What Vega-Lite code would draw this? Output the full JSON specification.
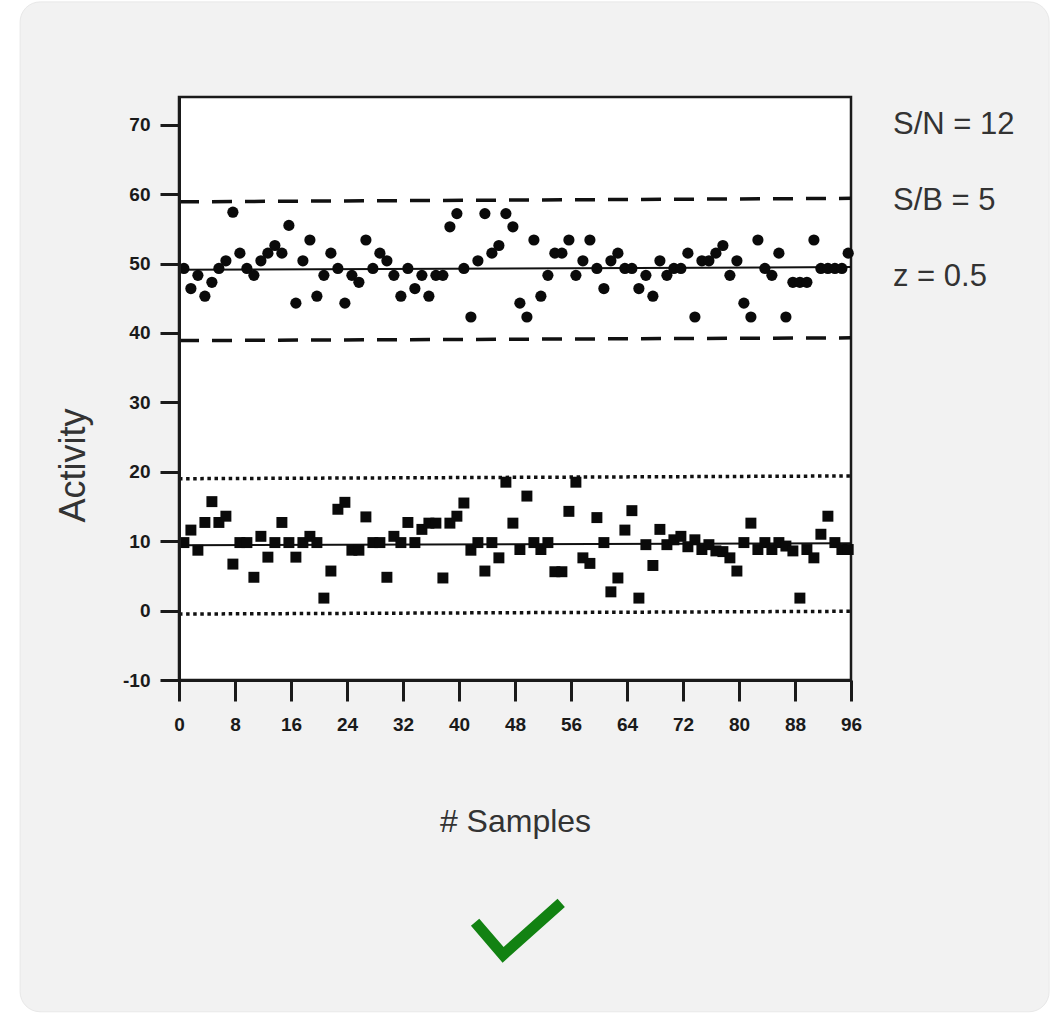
{
  "$schema": "https://vega.github.io/schema/vega-lite/v6.json",
  "width": 672,
  "height": 583,
  "autosize": {"type": "none"},
  "padding": {"left": 179, "top": 97, "right": 208, "bottom": 334},
  "background": "white",
  "config": {"view": {"stroke": null}, "font": "Liberation Sans"},
  "datasets": {
    "points": [
      {"sample": 0.7, "activity": 49.3, "kind": "signal"},
      {"sample": 1.7, "activity": 46.4, "kind": "signal"},
      {"sample": 2.7, "activity": 48.3, "kind": "signal"},
      {"sample": 3.7, "activity": 45.3, "kind": "signal"},
      {"sample": 4.7, "activity": 47.3, "kind": "signal"},
      {"sample": 5.7, "activity": 49.3, "kind": "signal"},
      {"sample": 6.7, "activity": 50.4, "kind": "signal"},
      {"sample": 7.7, "activity": 57.4, "kind": "signal"},
      {"sample": 8.7, "activity": 51.5, "kind": "signal"},
      {"sample": 9.7, "activity": 49.3, "kind": "signal"},
      {"sample": 10.7, "activity": 48.3, "kind": "signal"},
      {"sample": 11.7, "activity": 50.4, "kind": "signal"},
      {"sample": 12.7, "activity": 51.5, "kind": "signal"},
      {"sample": 13.7, "activity": 52.6, "kind": "signal"},
      {"sample": 14.7, "activity": 51.5, "kind": "signal"},
      {"sample": 15.7, "activity": 55.5, "kind": "signal"},
      {"sample": 16.7, "activity": 44.3, "kind": "signal"},
      {"sample": 17.7, "activity": 50.4, "kind": "signal"},
      {"sample": 18.7, "activity": 53.4, "kind": "signal"},
      {"sample": 19.7, "activity": 45.3, "kind": "signal"},
      {"sample": 20.7, "activity": 48.3, "kind": "signal"},
      {"sample": 21.7, "activity": 51.5, "kind": "signal"},
      {"sample": 22.7, "activity": 49.3, "kind": "signal"},
      {"sample": 23.7, "activity": 44.3, "kind": "signal"},
      {"sample": 24.7, "activity": 48.3, "kind": "signal"},
      {"sample": 25.7, "activity": 47.3, "kind": "signal"},
      {"sample": 26.7, "activity": 53.4, "kind": "signal"},
      {"sample": 27.7, "activity": 49.3, "kind": "signal"},
      {"sample": 28.7, "activity": 51.5, "kind": "signal"},
      {"sample": 29.7, "activity": 50.4, "kind": "signal"},
      {"sample": 30.7, "activity": 48.3, "kind": "signal"},
      {"sample": 31.7, "activity": 45.3, "kind": "signal"},
      {"sample": 32.7, "activity": 49.3, "kind": "signal"},
      {"sample": 33.7, "activity": 46.4, "kind": "signal"},
      {"sample": 34.7, "activity": 48.3, "kind": "signal"},
      {"sample": 35.7, "activity": 45.3, "kind": "signal"},
      {"sample": 36.7, "activity": 48.3, "kind": "signal"},
      {"sample": 37.7, "activity": 48.3, "kind": "signal"},
      {"sample": 38.7, "activity": 55.3, "kind": "signal"},
      {"sample": 39.7, "activity": 57.2, "kind": "signal"},
      {"sample": 40.7, "activity": 49.3, "kind": "signal"},
      {"sample": 41.7, "activity": 42.3, "kind": "signal"},
      {"sample": 42.7, "activity": 50.4, "kind": "signal"},
      {"sample": 43.7, "activity": 57.2, "kind": "signal"},
      {"sample": 44.7, "activity": 51.5, "kind": "signal"},
      {"sample": 45.7, "activity": 52.6, "kind": "signal"},
      {"sample": 46.7, "activity": 57.2, "kind": "signal"},
      {"sample": 47.7, "activity": 55.3, "kind": "signal"},
      {"sample": 48.7, "activity": 44.3, "kind": "signal"},
      {"sample": 49.7, "activity": 42.3, "kind": "signal"},
      {"sample": 50.7, "activity": 53.4, "kind": "signal"},
      {"sample": 51.7, "activity": 45.3, "kind": "signal"},
      {"sample": 52.7, "activity": 48.3, "kind": "signal"},
      {"sample": 53.7, "activity": 51.5, "kind": "signal"},
      {"sample": 54.7, "activity": 51.5, "kind": "signal"},
      {"sample": 55.7, "activity": 53.4, "kind": "signal"},
      {"sample": 56.7, "activity": 48.3, "kind": "signal"},
      {"sample": 57.7, "activity": 50.4, "kind": "signal"},
      {"sample": 58.7, "activity": 53.4, "kind": "signal"},
      {"sample": 59.7, "activity": 49.3, "kind": "signal"},
      {"sample": 60.7, "activity": 46.4, "kind": "signal"},
      {"sample": 61.7, "activity": 50.4, "kind": "signal"},
      {"sample": 62.7, "activity": 51.5, "kind": "signal"},
      {"sample": 63.7, "activity": 49.3, "kind": "signal"},
      {"sample": 64.7, "activity": 49.3, "kind": "signal"},
      {"sample": 65.7, "activity": 46.4, "kind": "signal"},
      {"sample": 66.7, "activity": 48.3, "kind": "signal"},
      {"sample": 67.7, "activity": 45.3, "kind": "signal"},
      {"sample": 68.7, "activity": 50.4, "kind": "signal"},
      {"sample": 69.7, "activity": 48.3, "kind": "signal"},
      {"sample": 70.7, "activity": 49.3, "kind": "signal"},
      {"sample": 71.7, "activity": 49.3, "kind": "signal"},
      {"sample": 72.7, "activity": 51.5, "kind": "signal"},
      {"sample": 73.7, "activity": 42.3, "kind": "signal"},
      {"sample": 74.7, "activity": 50.4, "kind": "signal"},
      {"sample": 75.7, "activity": 50.4, "kind": "signal"},
      {"sample": 76.7, "activity": 51.5, "kind": "signal"},
      {"sample": 77.7, "activity": 52.6, "kind": "signal"},
      {"sample": 78.7, "activity": 48.3, "kind": "signal"},
      {"sample": 79.7, "activity": 50.4, "kind": "signal"},
      {"sample": 80.7, "activity": 44.3, "kind": "signal"},
      {"sample": 81.7, "activity": 42.3, "kind": "signal"},
      {"sample": 82.7, "activity": 53.4, "kind": "signal"},
      {"sample": 83.7, "activity": 49.3, "kind": "signal"},
      {"sample": 84.7, "activity": 48.3, "kind": "signal"},
      {"sample": 85.7, "activity": 51.5, "kind": "signal"},
      {"sample": 86.7, "activity": 42.3, "kind": "signal"},
      {"sample": 87.7, "activity": 47.3, "kind": "signal"},
      {"sample": 88.7, "activity": 47.3, "kind": "signal"},
      {"sample": 89.7, "activity": 47.3, "kind": "signal"},
      {"sample": 90.7, "activity": 53.4, "kind": "signal"},
      {"sample": 91.7, "activity": 49.3, "kind": "signal"},
      {"sample": 92.7, "activity": 49.3, "kind": "signal"},
      {"sample": 93.7, "activity": 49.3, "kind": "signal"},
      {"sample": 94.7, "activity": 49.3, "kind": "signal"},
      {"sample": 95.6, "activity": 51.5, "kind": "signal"},
      {"sample": 0.7, "activity": 9.8, "kind": "background"},
      {"sample": 1.7, "activity": 11.6, "kind": "background"},
      {"sample": 2.7, "activity": 8.7, "kind": "background"},
      {"sample": 3.7, "activity": 12.7, "kind": "background"},
      {"sample": 4.7, "activity": 15.7, "kind": "background"},
      {"sample": 5.7, "activity": 12.7, "kind": "background"},
      {"sample": 6.7, "activity": 13.6, "kind": "background"},
      {"sample": 7.7, "activity": 6.7, "kind": "background"},
      {"sample": 8.7, "activity": 9.8, "kind": "background"},
      {"sample": 9.7, "activity": 9.8, "kind": "background"},
      {"sample": 10.7, "activity": 4.8, "kind": "background"},
      {"sample": 11.7, "activity": 10.7, "kind": "background"},
      {"sample": 12.7, "activity": 7.7, "kind": "background"},
      {"sample": 13.7, "activity": 9.8, "kind": "background"},
      {"sample": 14.7, "activity": 12.7, "kind": "background"},
      {"sample": 15.7, "activity": 9.8, "kind": "background"},
      {"sample": 16.7, "activity": 7.7, "kind": "background"},
      {"sample": 17.7, "activity": 9.8, "kind": "background"},
      {"sample": 18.7, "activity": 10.7, "kind": "background"},
      {"sample": 19.7, "activity": 9.8, "kind": "background"},
      {"sample": 20.7, "activity": 1.8, "kind": "background"},
      {"sample": 21.7, "activity": 5.7, "kind": "background"},
      {"sample": 22.7, "activity": 14.6, "kind": "background"},
      {"sample": 23.7, "activity": 15.6, "kind": "background"},
      {"sample": 24.7, "activity": 8.7, "kind": "background"},
      {"sample": 25.7, "activity": 8.7, "kind": "background"},
      {"sample": 26.7, "activity": 13.5, "kind": "background"},
      {"sample": 27.7, "activity": 9.8, "kind": "background"},
      {"sample": 28.7, "activity": 9.8, "kind": "background"},
      {"sample": 29.7, "activity": 4.8, "kind": "background"},
      {"sample": 30.7, "activity": 10.7, "kind": "background"},
      {"sample": 31.7, "activity": 9.8, "kind": "background"},
      {"sample": 32.7, "activity": 12.7, "kind": "background"},
      {"sample": 33.7, "activity": 9.8, "kind": "background"},
      {"sample": 34.7, "activity": 11.7, "kind": "background"},
      {"sample": 35.7, "activity": 12.6, "kind": "background"},
      {"sample": 36.7, "activity": 12.6, "kind": "background"},
      {"sample": 37.7, "activity": 4.7, "kind": "background"},
      {"sample": 38.7, "activity": 12.6, "kind": "background"},
      {"sample": 39.7, "activity": 13.6, "kind": "background"},
      {"sample": 40.7, "activity": 15.5, "kind": "background"},
      {"sample": 41.7, "activity": 8.7, "kind": "background"},
      {"sample": 42.7, "activity": 9.8, "kind": "background"},
      {"sample": 43.7, "activity": 5.7, "kind": "background"},
      {"sample": 44.7, "activity": 9.8, "kind": "background"},
      {"sample": 45.7, "activity": 7.6, "kind": "background"},
      {"sample": 46.7, "activity": 18.5, "kind": "background"},
      {"sample": 47.7, "activity": 12.6, "kind": "background"},
      {"sample": 48.7, "activity": 8.8, "kind": "background"},
      {"sample": 49.7, "activity": 16.5, "kind": "background"},
      {"sample": 50.7, "activity": 9.8, "kind": "background"},
      {"sample": 51.7, "activity": 8.8, "kind": "background"},
      {"sample": 52.7, "activity": 9.8, "kind": "background"},
      {"sample": 53.7, "activity": 5.6, "kind": "background"},
      {"sample": 54.7, "activity": 5.6, "kind": "background"},
      {"sample": 55.7, "activity": 14.3, "kind": "background"},
      {"sample": 56.7, "activity": 18.5, "kind": "background"},
      {"sample": 57.7, "activity": 7.6, "kind": "background"},
      {"sample": 58.7, "activity": 6.8, "kind": "background"},
      {"sample": 59.7, "activity": 13.4, "kind": "background"},
      {"sample": 60.7, "activity": 9.8, "kind": "background"},
      {"sample": 61.7, "activity": 2.7, "kind": "background"},
      {"sample": 62.7, "activity": 4.7, "kind": "background"},
      {"sample": 63.7, "activity": 11.6, "kind": "background"},
      {"sample": 64.7, "activity": 14.4, "kind": "background"},
      {"sample": 65.7, "activity": 1.8, "kind": "background"},
      {"sample": 66.7, "activity": 9.5, "kind": "background"},
      {"sample": 67.7, "activity": 6.5, "kind": "background"},
      {"sample": 68.7, "activity": 11.7, "kind": "background"},
      {"sample": 69.7, "activity": 9.5, "kind": "background"},
      {"sample": 70.7, "activity": 10.2, "kind": "background"},
      {"sample": 71.7, "activity": 10.7, "kind": "background"},
      {"sample": 72.7, "activity": 9.2, "kind": "background"},
      {"sample": 73.7, "activity": 10.2, "kind": "background"},
      {"sample": 74.7, "activity": 8.8, "kind": "background"},
      {"sample": 75.7, "activity": 9.5, "kind": "background"},
      {"sample": 76.7, "activity": 8.6, "kind": "background"},
      {"sample": 77.7, "activity": 8.5, "kind": "background"},
      {"sample": 78.7, "activity": 7.6, "kind": "background"},
      {"sample": 79.7, "activity": 5.7, "kind": "background"},
      {"sample": 80.7, "activity": 9.8, "kind": "background"},
      {"sample": 81.7, "activity": 12.6, "kind": "background"},
      {"sample": 82.7, "activity": 8.8, "kind": "background"},
      {"sample": 83.7, "activity": 9.8, "kind": "background"},
      {"sample": 84.7, "activity": 8.8, "kind": "background"},
      {"sample": 85.7, "activity": 9.8, "kind": "background"},
      {"sample": 86.7, "activity": 9.3, "kind": "background"},
      {"sample": 87.7, "activity": 8.6, "kind": "background"},
      {"sample": 88.7, "activity": 1.8, "kind": "background"},
      {"sample": 89.7, "activity": 8.8, "kind": "background"},
      {"sample": 90.7, "activity": 7.6, "kind": "background"},
      {"sample": 91.7, "activity": 11.0, "kind": "background"},
      {"sample": 92.7, "activity": 13.6, "kind": "background"},
      {"sample": 93.7, "activity": 9.8, "kind": "background"},
      {"sample": 94.7, "activity": 8.8, "kind": "background"},
      {"sample": 95.6, "activity": 8.8, "kind": "background"}
    ],
    "limits": [
      {"line": "signal mean", "sample": 0, "activity": 49.1},
      {"line": "signal mean", "sample": 96, "activity": 49.5},
      {"line": "signal +3SD", "sample": 0, "activity": 58.9},
      {"line": "signal +3SD", "sample": 96, "activity": 59.4},
      {"line": "signal -3SD", "sample": 0, "activity": 38.9},
      {"line": "signal -3SD", "sample": 96, "activity": 39.3},
      {"line": "background mean", "sample": 0, "activity": 9.4},
      {"line": "background mean", "sample": 96, "activity": 9.7},
      {"line": "background +3SD", "sample": 0, "activity": 19.0},
      {"line": "background +3SD", "sample": 96, "activity": 19.4},
      {"line": "background -3SD", "sample": 0, "activity": -0.5},
      {"line": "background -3SD", "sample": 96, "activity": -0.1}
    ],
    "check": [
      {"sample": 42.3, "activity": -44.9},
      {"sample": 46.3, "activity": -49.6},
      {"sample": 54.6, "activity": -42.1}
    ],
    "card": [
      {"x1": -22.7, "x2": 124.3, "y1": 87.7, "y2": -57.8}
    ],
    "frame": [
      {"x1": 0, "x2": 96, "y1": -10, "y2": 74}
    ],
    "stats": [
      {"label": "S/N = 12", "sample": 102, "activity": 70},
      {"label": "S/B = 5", "sample": 102, "activity": 59},
      {"label": "z = 0.5", "sample": 102, "activity": 48}
    ]
  },
  "encoding": {
    "x": {
      "field": "sample",
      "type": "quantitative",
      "scale": {"domain": [0, 96], "nice": false, "zero": false},
      "axis": {
        "title": "# Samples",
        "values": [0, 8, 16, 24, 32, 40, 48, 56, 64, 72, 80, 88, 96],
        "grid": false,
        "zindex": 1,
        "domainColor": "#1a1a1a",
        "domainWidth": 3,
        "tickColor": "#1a1a1a",
        "tickWidth": 3,
        "tickSize": 21,
        "labelFont": "Liberation Sans Narrow, Liberation Sans",
        "labelFontWeight": "bold",
        "labelFontSize": 19,
        "labelColor": "#1a1a1a",
        "labelPadding": 14,
        "labelFlush": false,
        "labelOverlap": false,
        "titleFont": "Liberation Sans",
        "titleFontSize": 32,
        "titleFontWeight": "normal",
        "titleColor": "#333333",
        "titlePadding": 72
      }
    },
    "y": {
      "field": "activity",
      "type": "quantitative",
      "scale": {"domain": [-10, 74], "nice": false, "zero": false},
      "axis": {
        "title": "Activity",
        "values": [-10, 0, 10, 20, 30, 40, 50, 60, 70],
        "labelExpr": "replace(datum.label, '\u2212', '-')",
        "grid": false,
        "zindex": 1,
        "domainColor": "#1a1a1a",
        "domainWidth": 3,
        "tickColor": "#1a1a1a",
        "tickWidth": 3,
        "tickSize": 19,
        "labelFont": "Liberation Sans Narrow, Liberation Sans",
        "labelFontWeight": "bold",
        "labelFontSize": 19,
        "labelColor": "#1a1a1a",
        "labelPadding": 10,
        "labelFlush": false,
        "labelOverlap": false,
        "titleFont": "Liberation Sans",
        "titleFontSize": 36,
        "titleFontWeight": "normal",
        "titleColor": "#333333",
        "titlePadding": 30,
        "titleY": 368
      }
    }
  },
  "layer": [
    {
      "data": {"name": "card"},
      "mark": {"type": "rect", "fill": "#f2f2f2", "cornerRadius": 20, "stroke": "#e8e8e8", "strokeWidth": 1},
      "encoding": {
        "x": {"field": "x1", "type": "quantitative"},
        "x2": {"field": "x2"},
        "y": {"field": "y1", "type": "quantitative"},
        "y2": {"field": "y2"}
      }
    },
    {
      "data": {"name": "frame"},
      "mark": {"type": "rect", "fill": "white", "stroke": "#1a1a1a", "strokeWidth": 2.5},
      "encoding": {
        "x": {"field": "x1", "type": "quantitative"},
        "x2": {"field": "x2"},
        "y": {"field": "y1", "type": "quantitative"},
        "y2": {"field": "y2"}
      }
    },
    {
      "data": {"name": "limits"},
      "transform": [{"filter": "indexof(datum.line, 'mean') >= 0"}],
      "mark": {"type": "line", "color": "#111111", "strokeWidth": 2},
      "encoding": {"detail": {"field": "line"}}
    },
    {
      "data": {"name": "limits"},
      "transform": [{"filter": "datum.line === 'signal +3SD' || datum.line === 'signal -3SD'"}],
      "mark": {"type": "line", "color": "#111111", "strokeWidth": 3.5, "strokeDash": [20, 13]},
      "encoding": {"detail": {"field": "line"}}
    },
    {
      "data": {"name": "limits"},
      "transform": [{"filter": "datum.line === 'background +3SD' || datum.line === 'background -3SD'"}],
      "mark": {"type": "line", "color": "#111111", "strokeWidth": 3.5, "strokeDash": [3.5, 3.6]},
      "encoding": {"detail": {"field": "line"}}
    },
    {
      "data": {"name": "points"},
      "transform": [{"filter": "datum.kind === 'signal'"}],
      "mark": {"type": "point", "shape": "circle", "filled": true, "color": "#0a0a0a", "opacity": 1, "size": 125}
    },
    {
      "data": {"name": "points"},
      "transform": [{"filter": "datum.kind === 'background'"}],
      "mark": {"type": "point", "shape": "square", "filled": true, "color": "#0a0a0a", "opacity": 1, "size": 120}
    },
    {
      "data": {"name": "stats"},
      "mark": {"type": "text", "align": "left", "baseline": "middle", "fontSize": 31, "color": "#333333", "font": "Liberation Sans"},
      "encoding": {
        "text": {"field": "label"}
      }
    },
    {
      "data": {"name": "check"},
      "mark": {"type": "line", "color": "#128212", "strokeWidth": 11, "strokeCap": "butt", "strokeJoin": "miter"},
      "encoding": {}
    }
  ]
}
